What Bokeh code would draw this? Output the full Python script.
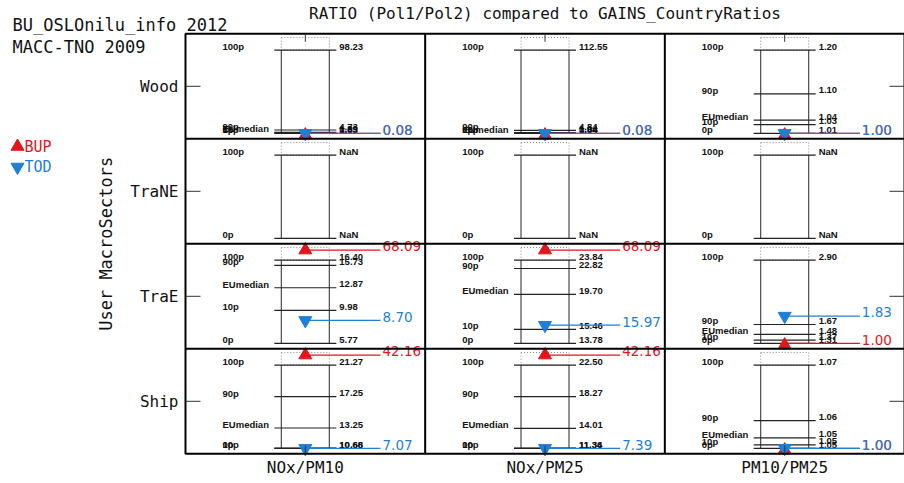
import math
from bokeh.plotting import figure
from bokeh.models import Range1d
from bokeh.core.properties import value
from bokeh.embed import file_html
from bokeh.resources import INLINE

nan = float("nan")

# Sectors (rows, top to bottom) and pollutant ratios (columns)
sectors = ["Wood", "TraNE", "TraE", "Ship"]
ratios = ["NOx/PM10", "NOx/PM25", "PM10/PM25"]
pct_names = ["0p", "10p", "EUmedian", "90p", "100p"]

# GAINS country-ratio distribution per sector (rows) and ratio (columns)
pct_0 = [[0.83, 0.84, 1.01], [nan, nan, nan], [5.77, 13.78, 1.31], [10.66, 11.34, 1.048]]
pct_10 = [[1.03, 1.04, 1.03], [nan, nan, nan], [9.98, 15.46, 1.37], [10.68, 11.36, 1.049]]
pct_med = [[1.89, 1.94, 1.04], [nan, nan, nan], [12.87, 19.70, 1.48], [13.25, 14.01, 1.051]]
pct_90 = [[4.73, 4.84, 1.10], [nan, nan, nan], [15.73, 22.82, 1.67], [17.25, 18.27, 1.056]]
pct_100 = [[98.23, 112.55, 1.20], [nan, nan, nan], [16.40, 23.84, 2.90], [21.27, 22.50, 1.072]]

# Inventory ratios: bottom-up (BUP) and top-down (TOD)
bup = [[0.08, 0.08, 1.00], [nan, nan, nan], [68.09, 68.09, 1.00], [42.16, 42.16, 1.00]]
tod = [[0.08, 0.08, 1.00], [nan, nan, nan], [8.70, 15.97, 1.83], [7.07, 7.39, 1.00]]

RED = "#e4141b"
BLUE = "#1f7fd6"

# ---- page geometry (pixels) ----
W, H = 904, 483
FRAME_L, FRAME_R = 185.0, 904.0
FRAME_T, FRAME_B = 33.3, 453.3
COL_PX = (FRAME_R - FRAME_L) / len(ratios)
ROW_PX = (FRAME_B - FRAME_T) / len(sectors)


def px_x(xp):
    return (xp - FRAME_L) / COL_PX


def px_y(yp):
    return (FRAME_B - yp) / ROW_PX


# cell layout, in column / row units
BOX_HW = 24 / COL_PX
LINE_HW = 31 / COL_PX
NAME_X = 37 / COL_PX
VAL_DX = 34 / COL_PX
MARK_LBL_X = 197 / COL_PX
T0, T100 = 0.052, 0.845
DOT_TOP = 0.965
HI_CLAMP = 0.94
LO_CLAMP_TOD, LO_CLAMP_BUP = 0.052, 0.035

p = figure(width=W, height=H, output_backend="svg", toolbar_location=None,
           x_range=Range1d(px_x(0), px_x(W)), y_range=Range1d(px_y(H), px_y(0)),
           x_axis_type=None, y_axis_type=None, min_border=0)
p.outline_line_color = None
p.grid.visible = False
p.background_fill_color = "white"
p.border_fill_color = "white"

# collected geometry
pl = dict(x0=[], x1=[], y=[])           # percentile lines
bx = dict(x=[], y0=[], y1=[])           # box sides
dot = dict(l=[], r=[], b=[], t=[])      # dotted headroom box
names = dict(x=[], y=[], t=[])
vals = dict(x=[], y=[], t=[])
marks = {"BUP": dict(x=[], my=[], ly=[], x1=[], lx=[], t=[]),
         "TOD": dict(x=[], my=[], ly=[], x1=[], lx=[], t=[])}

n_rows = len(sectors)
for i, sec in enumerate(sectors):
    base = n_rows - 1 - i
    for j, rat in enumerate(ratios):
        cx = j + 0.5
        v = [pct_0[i][j], pct_10[i][j], pct_med[i][j], pct_90[i][j], pct_100[i][j]]
        empty = all(math.isnan(a) for a in v)
        if empty:
            entries = [("0p", base + T0, "NaN"), ("100p", base + T100, "NaN")]
            lo = hi = nan
        else:
            lo, hi = v[0], v[4]

            def ypos(a, lo=lo, hi=hi, base=base):
                return base + T0 + (a - lo) / (hi - lo) * (T100 - T0)

            entries = [(n, ypos(a), f"{a:.2f}") for n, a in zip(pct_names, v)]
        y0p = base + T0
        y100p = base + T100
        bx["x"] += [cx - BOX_HW, cx + BOX_HW]
        bx["y0"] += [y0p, y0p]
        bx["y1"] += [y100p, y100p]
        dot["l"].append(cx - BOX_HW)
        dot["r"].append(cx + BOX_HW)
        dot["b"].append(y100p)
        dot["t"].append(base + DOT_TOP)
        for n, yy, lbl in entries:
            pl["x0"].append(cx - LINE_HW)
            pl["x1"].append(cx + LINE_HW)
            pl["y"].append(yy)
            names["x"].append(j + NAME_X)
            names["y"].append(yy)
            names["t"].append(n)
            vals["x"].append(cx + VAL_DX)
            vals["y"].append(yy)
            vals["t"].append(lbl)
        if empty:
            continue
        for key, arr, lo_clamp in (("BUP", bup, LO_CLAMP_BUP), ("TOD", tod, LO_CLAMP_TOD)):
            a = arr[i][j]
            if math.isnan(a):
                continue
            if a > hi:
                my = ly = base + HI_CLAMP
            elif a < lo:
                my = base + lo_clamp
                ly = base + T0
            else:
                my = ly = ypos(a)
            m = marks[key]
            m["x"].append(cx)
            m["my"].append(my)
            m["ly"].append(ly)
            m["x1"].append(j + MARK_LBL_X - 2 / COL_PX)
            m["lx"].append(j + MARK_LBL_X)
            m["t"].append(f"{a:.2f}")

# dotted headroom above the 100th percentile
p.quad(left=dot["l"], right=dot["r"], bottom=dot["b"], top=dot["t"], fill_color=None,
       line_color="#8a8a8a", line_width=1, line_dash="1 2")
# box sides and percentile lines
p.segment(x0=bx["x"], x1=bx["x"], y0=bx["y0"], y1=bx["y1"], line_color="#4a4a4a", line_width=1.2)
p.segment(x0=pl["x0"], x1=pl["x1"], y0=pl["y"], y1=pl["y"], line_color="#222222", line_width=1.2)

small_font = value("Liberation Sans")
p.text(x=names["x"], y=names["y"], text=names["t"], text_font=small_font, text_font_style="bold",
       text_font_size="9.5px", text_align="left", text_baseline="middle", y_offset=-3.5,
       text_color="#111111")
p.text(x=vals["x"], y=vals["y"], text=vals["t"], text_font=small_font, text_font_style="bold",
       text_font_size="9.5px", text_align="left", text_baseline="middle", y_offset=-3.5,
       text_color="#111111")

# inventory ratio markers with their value labels
for key, color, marker in (("BUP", RED, "triangle"), ("TOD", BLUE, "inverted_triangle")):
    m = marks[key]
    p.segment(x0=m["x"], x1=m["x1"], y0=m["ly"], y1=m["ly"], line_color=color, line_width=1.2)
    p.scatter(x=m["x"], y=m["my"], marker=marker, size=13, fill_color=color, line_color=color)
    p.text(x=m["lx"], y=m["ly"], text=m["t"], text_font=value("DejaVu Sans"), text_font_size="13.5px",
           text_align="left", text_baseline="middle", y_offset=-3.7, text_color=color)

# frame, row / column separators and ticks
nc, nr = len(ratios), len(sectors)
p.quad(left=[0], right=[nc], bottom=[0], top=[nr], fill_color=None, line_color="black", line_width=2)
p.segment(x0=[0] * (nr - 1), x1=[nc] * (nr - 1), y0=list(range(1, nr)), y1=list(range(1, nr)),
          line_color="black", line_width=2)
p.segment(x0=list(range(1, nc)), x1=list(range(1, nc)), y0=[0] * (nc - 1), y1=[nr] * (nc - 1),
          line_color="black", line_width=2)
row_c = [nr - 1 - i + 0.5 for i in range(nr)]
col_c = [j + 0.5 for j in range(nc)]
tick_x = 15 / COL_PX
tick_y = 8 / ROW_PX
p.segment(x0=[0] * nr, x1=[tick_x] * nr, y0=row_c, y1=row_c, line_color="#333333", line_width=1)
p.segment(x0=[nc - tick_x] * nr, x1=[nc] * nr, y0=row_c, y1=row_c, line_color="#333333", line_width=1)
p.segment(x0=col_c, x1=col_c, y0=[nr] * nc, y1=[nr - tick_y] * nc, line_color="#333333", line_width=1)
p.segment(x0=col_c, x1=col_c, y0=[0] * nc, y1=[tick_y] * nc, line_color="#333333", line_width=1)

big = value("DejaVu Sans Mono")
# row and column labels
p.text(x=[px_x(178)] * nr, y=row_c, text=sectors, text_font=big, text_font_size="16px",
       text_align="right", text_baseline="middle", text_color="#111111")
p.text(x=col_c, y=[px_y(467)] * nc, text=ratios, text_font=big, text_font_size="16px",
       text_align="center", text_baseline="middle", text_color="#111111")
p.text(x=[px_x(105)], y=[nr / 2], text=["User MacroSectors"], text_font=big, text_font_size="17px",
       text_align="center", text_baseline="middle", angle=math.pi / 2, text_color="#111111")

# title and run information
p.text(x=[nc / 2], y=[px_y(12.5)], text=["RATIO (Pol1/Pol2) compared to GAINS_CountryRatios"],
       text_font=big, text_font_size="16px", text_align="center", text_baseline="middle",
       text_color="#111111")
p.text(x=[px_x(12), px_x(12)], y=[px_y(24), px_y(46)], text=["BU_OSLOnilu_info 2012", "MACC-TNO 2009"],
       text_font=big, text_font_size="17px", text_align="left", text_baseline="middle",
       text_color="#111111")

# legend
p.scatter(x=[px_x(17)], y=[px_y(146)], marker="triangle", size=13, fill_color=RED, line_color=RED)
p.scatter(x=[px_x(17)], y=[px_y(166.5)], marker="inverted_triangle", size=13, fill_color=BLUE, line_color=BLUE)
p.text(x=[px_x(24), px_x(24)], y=[px_y(146), px_y(166.5)], text=["BUP", "TOD"], text_font=big,
       text_font_size="15px", text_align="left", text_baseline="middle", text_color=[RED, BLUE])

open("out.html", "w").write(file_html(p, INLINE))
